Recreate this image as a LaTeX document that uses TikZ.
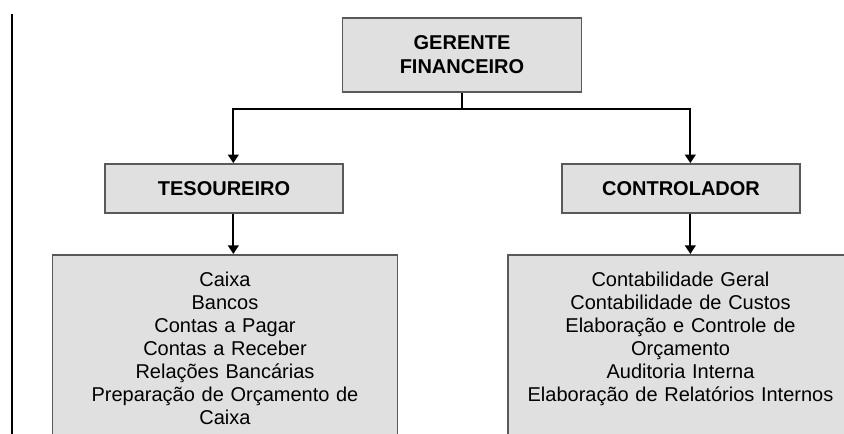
\documentclass[tikz,border=0pt]{standalone}
\usepackage{fontspec}
\setmainfont{Liberation Sans}
\usetikzlibrary{arrows.meta}

\tikzset{
    caixa/.style = {draw = black!65, line width = 1.2pt, fill = black!12, text = black,
        font = \fontsize{15}{17.25}\selectfont, align = center},
    cargo/.style = {caixa, font = \fontsize{15}{18}\selectfont\bfseries, inner sep = 0pt},
    tarefas/.style = {caixa, anchor = north, text width = 251pt, inner xsep = 4pt,
        inner ysep = 13pt, text depth = 160pt},
    conector/.style = {line width = 1.7pt, black}
}

\begin{document}
\begin{tikzpicture}[x = 0.75pt, y = -0.75pt, >={Triangle[width = 8pt, length = 6.5pt]}]
        \clip (0, 0) rectangle (844, 434);
        \draw [line width = 1.5pt] (12, 14) -- (12, 434);
        % cargos
        \node [cargo, minimum width = 179pt, minimum height = 55.5pt] (gerente) at (462, 55) {GERENTE\\FINANCEIRO};
        \node [cargo, minimum width = 178.5pt, minimum height = 36.75pt] (tesoureiro) at (224, 188.5) {TESOUREIRO};
        \node [cargo, minimum width = 178.5pt, minimum height = 36.75pt] (controlador) at (681, 188.5) {CONTROLADOR};
        % atribuicoes
        \node [tarefas] (tarefasT) at (225, 254) {Caixa\\Bancos\\Contas a Pagar\\Contas a Receber\\Relações Bancárias\\Preparação de Orçamento de\\Caixa};
        \node [tarefas] (tarefasC) at (680.5, 254) {Contabilidade Geral\\Contabilidade de Custos\\Elaboração e Controle de\\Orçamento\\Auditoria Interna\\Elaboração de Relatórios Internos};
        % ligacoes
        \coordinate (juncao) at (462, 109);
        \draw [conector] (gerente.south) -- (juncao);
        \draw [conector, ->] (juncao) -| ([xshift = 7pt]tesoureiro.north);
        \draw [conector, ->] (juncao) -| ([xshift = 7pt]controlador.north);
        \draw [conector, ->] ([xshift = 7pt]tesoureiro.south) -- ([xshift = 7pt]tesoureiro.south |- tarefasT.north);
        \draw [conector, ->] ([xshift = 7pt]controlador.south) -- ([xshift = 7pt]controlador.south |- tarefasC.north);
    \end{tikzpicture}
\end{document}
